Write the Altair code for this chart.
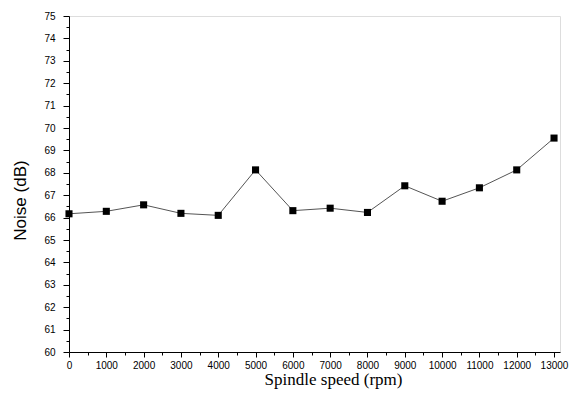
import altair as alt
import pandas as pd

speed = [0, 1000, 2000, 3000, 4000, 5000, 6000, 7000, 8000, 9000, 10000, 11000, 12000, 13000]
noise = [66.17, 66.28, 66.57, 66.19, 66.10, 68.13, 66.31, 66.42, 66.23, 67.42, 66.73, 67.33, 68.13, 69.55]

x_major = list(range(0, 13001, 1000))
x_minor = [v + 500 for v in range(0, 13000, 1000)]
y_major = list(range(60, 76))
y_minor = [v + 0.5 for v in range(60, 75)]

df = pd.DataFrame({"speed": speed, "noise": noise})

xs = alt.Scale(domain=[0, 13160], nice=False, zero=False)
ys = alt.Scale(domain=[60, 75], nice=False, zero=False)

x_axis = alt.Axis(values=x_major, format="d", tickSize=5, tickColor="black", domainColor="black",
                  labelFont="Arial", labelFontSize=10, labelColor="black", labelPadding=3,
                  grid=False, orient="bottom", labelFlush=False,
                  title="Spindle speed (rpm)", titleFont="Liberation Serif", titleFontSize=17,
                  titleFontWeight="normal", titleColor="black", titleX=264, titleY=27,
                  titleBaseline="middle", titleAnchor="middle")
y_axis = alt.Axis(values=y_major, format="d", tickSize=6, tickColor="black", domainColor="black",
                  labelFont="Arial", labelFontSize=10, labelColor="black", labelPadding=8,
                  grid=False, orient="left", labelFlush=False,
                  title="Noise (dB)", titleFont="Arial", titleFontSize=17,
                  titleFontWeight="normal", titleColor="black", titleX=-49, titleY=184,
                  titleBaseline="middle", titleAnchor="middle", titleAngle=270)

x_minor_axis = alt.Axis(values=x_minor, tickSize=3, tickColor="black", labels=False, domain=False,
                        grid=False, orient="bottom", title=None)
y_minor_axis = alt.Axis(values=y_minor, tickSize=3, tickColor="black", labels=False, domain=False,
                        grid=False, orient="left", title=None)

line = alt.Chart(df).mark_line(color="#555555", strokeWidth=1).encode(
    x=alt.X("speed:Q", scale=xs, axis=x_axis),
    y=alt.Y("noise:Q", scale=ys, axis=y_axis),
)
pts = alt.Chart(df).mark_point(shape="square", filled=True, color="black", size=50, opacity=1).encode(
    x=alt.X("speed:Q", scale=xs, axis=x_minor_axis),
    y=alt.Y("noise:Q", scale=ys, axis=y_minor_axis),
)

chart = alt.layer(line, pts).resolve_axis(x="independent", y="independent").properties(
    width=491, height=336,
    autosize=alt.AutoSizeParams(type="none"),
    padding={"left": 69, "top": 16, "right": 16, "bottom": 42},
).configure_view(stroke=None).configure(background="white")

chart.save("out.html", embed_options={"renderer": "svg", "actions": False})
